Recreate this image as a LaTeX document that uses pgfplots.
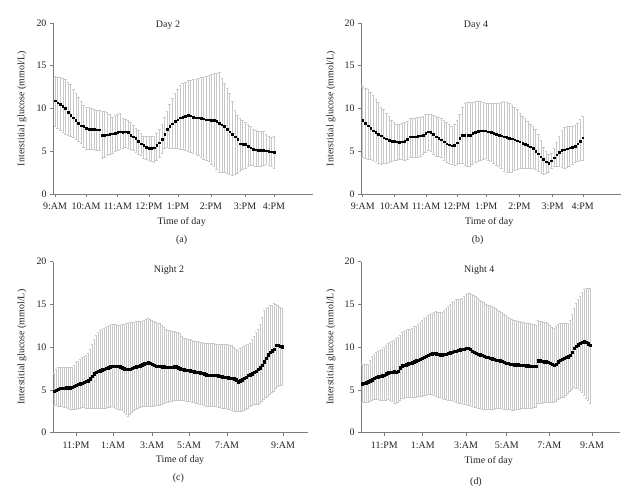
\documentclass[border=0pt]{standalone}
\usepackage{fontspec}
\setmainfont{Liberation Serif}
\usepackage{pgfplots}
\usepackage{pgfplotstable}
\pgfplotsset{compat=1.18}

\definecolor{barc}{RGB}{200,200,200}
\definecolor{axc}{RGB}{125,125,125}
\definecolor{txt}{RGB}{35,35,35}

\pgfplotstableread{
m hi lo
10.9 13.8 7.95
10.7 13.7 7.7
10.5 13.6 7.4
10.3 13.5 7.2
10.0 13.4 7.0
9.6 13.1 6.9
9.2 12.8 6.8
8.9 12.3 6.6
8.6 11.8 6.4
8.3 11.3 6.2
8.0 10.8 5.9
7.9 10.4 5.5
7.7 10.2 5.2
7.6 10.1 5.2
7.55 10.0 5.2
7.55 9.9 5.2
7.5 9.85 5.15
7.5 9.8 5.15
6.9 9.7 4.2
6.9 9.7 4.3
6.95 9.6 4.5
7.0 9.3 4.6
7.05 9.0 4.8
7.1 9.2 5.0
7.2 9.3 5.1
7.3 9.4 5.2
7.2 8.9 5.4
7.3 8.7 5.5
7.2 8.6 5.4
6.9 8.4 5.2
6.7 8.0 5.1
6.5 7.7 4.9
6.2 7.5 4.7
5.9 7.1 4.5
5.7 6.8 4.2
5.5 6.7 4.05
5.35 6.7 3.9
5.35 6.7 3.8
5.4 6.8 3.7
5.7 7.1 3.9
6.0 7.6 4.3
6.4 8.2 4.8
7.0 9.0 5.4
7.6 9.7 5.45
7.9 10.5 5.4
8.2 11.2 5.35
8.5 11.8 5.35
8.7 12.3 5.3
8.9 12.7 5.25
9.0 12.9 5.2
9.1 13.1 5.1
9.2 13.3 5.0
9.15 13.35 4.9
9.0 13.4 4.8
8.9 13.45 4.6
8.9 13.5 4.5
8.85 13.6 4.3
8.8 13.7 4.1
8.7 13.8 3.9
8.7 13.9 3.8
8.6 14.0 3.5
8.6 14.1 3.2
8.5 14.15 2.85
8.3 14.2 2.6
8.1 13.5 2.5
7.9 13.0 2.5
7.6 12.4 2.4
7.3 11.8 2.3
7.0 10.8 2.25
6.7 9.8 2.3
6.4 9.2 2.4
5.9 8.8 2.7
5.8 8.6 2.9
5.8 8.4 3.0
5.6 8.1 3.2
5.4 7.9 3.35
5.25 7.6 3.4
5.2 7.4 3.3
5.15 7.3 3.2
5.15 7.3 3.2
5.1 7.3 3.35
5.05 7.0 3.5
5.0 6.7 3.4
4.95 6.6 3.2
4.9 6.8 3.0
}\dayA

\pgfplotstableread{
m hi lo
8.6 12.6 4.35
8.3 12.4 4.2
8.0 12.2 4.1
7.7 11.9 4.05
7.4 11.5 4.0
7.2 11.1 3.8
7.0 10.7 3.55
6.8 10.2 3.5
6.6 9.9 3.55
6.45 9.5 3.65
6.3 9.1 3.75
6.2 8.6 3.85
6.15 8.35 3.95
6.1 8.2 4.0
6.05 8.2 4.05
6.1 8.25 4.05
6.2 8.4 4.0
6.4 8.5 4.1
6.7 8.8 4.3
6.7 8.9 4.35
6.7 8.9 4.35
6.75 8.95 4.35
6.8 9.0 4.4
6.9 9.1 4.6
7.1 9.3 4.9
7.3 9.35 5.1
7.2 9.3 5.0
7.0 9.2 4.6
6.7 9.1 4.45
6.5 9.0 4.4
6.35 8.85 4.3
6.1 8.6 4.0
5.9 8.4 3.7
5.75 8.1 3.6
5.65 7.95 3.5
5.7 8.15 3.4
6.0 8.6 3.5
6.5 9.3 3.6
6.85 10.1 3.6
6.9 10.6 3.4
6.9 10.7 3.2
6.9 10.7 3.3
7.1 10.7 3.45
7.25 10.8 3.7
7.35 10.9 3.85
7.4 10.85 4.0
7.4 10.7 4.1
7.4 10.6 4.15
7.3 10.6 4.0
7.2 10.6 3.8
7.1 10.6 3.6
7.0 10.6 3.35
6.9 10.65 3.25
6.8 10.75 3.0
6.7 10.8 2.7
6.65 10.75 2.55
6.55 10.6 2.55
6.45 10.4 2.6
6.35 10.2 2.75
6.25 9.9 2.9
6.1 9.5 3.0
5.95 9.1 3.0
5.8 8.8 3.0
5.7 8.5 3.0
5.55 8.2 3.0
5.35 7.9 3.0
5.0 7.6 2.95
4.7 7.0 2.7
4.35 6.3 2.4
4.05 5.5 2.35
3.8 5.0 2.45
3.6 4.6 2.6
3.9 4.8 3.0
4.25 5.3 3.25
4.6 6.0 3.25
4.9 6.8 3.2
5.1 7.5 3.1
5.2 7.8 3.0
5.3 7.9 3.1
5.4 7.9 3.3
5.5 7.9 3.5
5.6 8.0 3.7
5.9 8.3 3.8
6.2 8.7 3.9
6.6 9.05 4.0
}\dayB

\pgfplotstableread{
m hi lo
4.85 6.9 3.25
4.95 7.4 3.2
5.1 7.6 3.15
5.2 7.65 3.1
5.2 7.7 3.05
5.2 7.7 3.0
5.25 7.7 2.95
5.25 7.7 2.85
5.25 7.65 2.8
5.35 7.7 2.75
5.45 7.9 2.75
5.55 8.2 2.8
5.65 8.4 2.85
5.75 8.6 2.9
5.8 8.8 2.95
5.9 8.95 2.95
6.0 9.1 2.9
6.1 9.3 2.9
6.3 9.8 2.85
6.6 10.35 2.85
6.9 10.9 2.85
7.1 11.4 2.85
7.2 11.7 2.85
7.25 12.0 2.85
7.35 12.1 2.85
7.45 12.2 2.85
7.55 12.35 2.9
7.6 12.45 2.95
7.7 12.55 3.0
7.75 12.65 3.05
7.8 12.7 3.0
7.8 12.65 2.9
7.75 12.6 2.8
7.7 12.6 2.7
7.6 12.65 2.6
7.5 12.7 2.4
7.4 12.8 2.15
7.4 12.85 1.95
7.45 12.9 2.1
7.55 12.9 2.4
7.65 12.95 2.65
7.7 13.0 2.8
7.8 13.0 2.9
7.85 13.0 3.0
7.95 13.0 3.05
8.05 13.1 3.05
8.1 13.25 3.05
8.2 13.4 3.05
8.1 13.3 3.05
8.0 13.1 3.1
7.9 13.0 3.15
7.8 12.9 3.2
7.8 12.8 3.2
7.75 12.75 3.25
7.7 12.6 3.35
7.7 12.3 3.45
7.65 12.1 3.55
7.65 12.0 3.6
7.65 11.95 3.65
7.65 11.9 3.7
7.7 11.85 3.75
7.7 11.8 3.75
7.6 11.75 3.8
7.5 11.6 3.8
7.4 11.3 3.75
7.35 11.1 3.75
7.3 11.0 3.7
7.3 10.95 3.7
7.25 10.9 3.65
7.2 10.8 3.6
7.15 10.75 3.55
7.1 10.7 3.5
7.05 10.65 3.4
7.0 10.6 3.35
6.95 10.55 3.3
6.9 10.5 3.2
6.8 10.5 3.15
6.75 10.45 3.1
6.75 10.45 3.1
6.7 10.45 3.05
6.7 10.45 3.05
6.7 10.4 3.05
6.65 10.4 3.0
6.6 10.4 2.95
6.55 10.4 2.9
6.5 10.35 2.9
6.5 10.3 2.85
6.45 10.3 2.8
6.4 10.25 2.7
6.4 10.25 2.6
6.3 10.0 2.55
6.2 9.8 2.5
5.95 9.65 2.45
6.1 9.85 2.5
6.2 10.0 2.55
6.35 10.1 2.65
6.5 10.2 2.7
6.7 10.35 2.9
6.8 10.5 3.05
6.9 10.9 3.2
7.05 11.3 3.3
7.2 11.7 3.35
7.4 12.1 3.35
7.6 12.7 3.5
7.9 13.5 3.7
8.3 14.3 3.9
8.7 14.5 4.1
9.1 14.7 4.3
9.4 14.85 4.5
9.6 14.95 4.7
9.8 15.1 4.9
10.2 15.0 5.2
10.2 14.85 5.4
10.1 14.7 5.5
10.05 14.55 5.6
}\nightA

\pgfplotstableread{
m hi lo
5.75 8.05 3.6
5.8 8.05 3.6
5.85 8.05 3.6
5.95 8.05 3.6
6.1 8.5 3.7
6.2 8.9 3.8
6.4 9.2 3.95
6.5 9.4 3.95
6.55 9.55 3.9
6.6 9.7 3.85
6.65 9.8 3.8
6.75 9.95 3.8
6.9 10.2 3.85
7.0 10.45 3.9
7.05 10.55 3.85
7.1 10.7 3.7
7.15 10.85 3.5
7.05 11.0 3.45
7.2 11.2 3.6
7.6 11.4 3.8
7.85 11.7 4.0
7.9 11.85 4.05
7.95 11.95 4.1
8.05 12.05 4.15
8.1 12.1 4.2
8.2 12.25 4.2
8.3 12.4 4.2
8.4 12.5 4.2
8.5 12.7 4.25
8.6 12.95 4.3
8.7 13.15 4.3
8.8 13.35 4.35
8.95 13.55 4.4
9.05 13.75 4.5
9.15 13.9 4.5
9.25 14.0 4.45
9.3 14.1 4.4
9.25 14.15 4.3
9.15 14.1 4.2
9.1 14.05 4.1
9.1 14.05 4.05
9.15 14.3 3.95
9.2 14.5 3.9
9.3 14.75 3.85
9.35 15.0 3.8
9.4 15.25 3.75
9.5 15.4 3.65
9.55 15.55 3.55
9.65 15.6 3.5
9.7 15.65 3.45
9.75 15.75 3.4
9.8 15.95 3.35
9.85 16.15 3.3
9.85 16.3 3.25
9.75 16.3 3.2
9.55 16.2 3.1
9.4 16.1 3.0
9.3 15.95 2.95
9.2 15.7 2.9
9.1 15.5 2.85
9.05 15.35 2.8
8.95 15.2 2.8
8.85 15.05 2.8
8.8 14.95 2.75
8.7 14.9 2.75
8.65 14.8 2.8
8.6 14.65 2.8
8.5 14.5 2.85
8.45 14.35 2.85
8.4 14.25 2.85
8.35 14.1 2.85
8.25 13.9 2.8
8.15 13.7 2.8
8.1 13.5 2.75
8.0 13.35 2.7
8.0 13.25 2.65
7.95 13.15 2.65
7.95 13.1 2.7
7.95 13.05 2.75
7.9 13.0 2.8
7.9 12.95 2.85
7.9 12.9 2.85
7.85 12.85 2.85
7.85 12.8 2.9
7.8 12.75 2.9
7.8 12.7 2.9
7.8 12.65 2.95
7.8 12.6 2.95
8.4 13.1 3.4
8.4 13.05 3.45
8.35 13.0 3.5
8.3 12.95 3.55
8.3 12.9 3.55
8.25 12.8 3.6
8.15 12.6 3.6
8.0 12.3 3.6
7.9 12.2 3.6
8.0 12.4 3.7
8.3 12.65 3.9
8.45 12.75 4.0
8.6 12.8 4.15
8.7 12.8 4.2
8.8 12.8 4.4
8.9 12.8 4.6
9.05 13.2 4.85
9.4 13.9 5.1
9.85 14.6 5.3
10.1 15.1 5.25
10.3 15.6 5.15
10.45 16.0 5.0
10.55 16.4 4.7
10.65 16.75 4.4
10.6 16.9 4.05
10.4 16.9 3.8
10.2 16.9 3.5
}\nightB

\pgfplotsset{
  gl/.style={
    scale only axis, anchor=south west,
    ymin=0, ymax=20, ytick={0,5,10,15,20},
    axis lines=left, axis line style={-, axc, line width=0.6pt},
    tick align=outside, major tick length=3bp,
    tick style={axc, line width=0.5pt},
    tick label style={font=\fontsize{10}{12}\selectfont, text=txt},
    xticklabel style={yshift=-2.5bp},
    /pgf/number format/assume math mode=true,
    label style={font=\fontsize{10}{12}\selectfont, text=txt},
    xlabel={Time of day}, ylabel={Interstitial glucose (mmol/L)},
    clip=false,
  },
  bars/.style={forget plot, draw=none, no markers,
    error bars/.cd, y dir=both, y explicit,
    error bar style={draw=barc, line width=0.5pt},
    error mark options={draw=barc, rotate=90, mark size=1.3pt, line width=0.5pt}},
  dmark/.style={only marks, mark=square*, mark size=0.8pt, mark options={draw=none, fill=black}},
  nmark/.style={only marks, mark=square*, mark size=1.2pt, mark options={draw=none, fill=black}},
}

\begin{document}
\begin{tikzpicture}[x=1bp, y=1bp, font=\fontsize{10}{12}\selectfont]
\useasboundingbox (0,0) rectangle (636,492);

% (a) Day 2
\begin{axis}[gl, at={(53bp,298bp)}, width=260bp, height=171bp,
  xmin=-0.77, xmax=98.96,
  xtick={0,11.9,24.05,36.06,47.2,59.8,72.9,84},
  xticklabels={9:AM,10:AM,11:AM,12:PM,1:PM,2:PM,3:PM,4:PM},
  ylabel style={at={(axis description cs:-0.119,0.5)}, anchor=center},
  xlabel style={at={(axis description cs:0.495,-0.162)}, anchor=center}]
\addplot[bars] table[x expr=\coordindex, y=m,
  y error plus expr=\thisrow{hi}-\thisrow{m},
  y error minus expr=\thisrow{m}-\thisrow{lo}] {\dayA};
\addplot[dmark] table[x expr=\coordindex, y=m] {\dayA};
\end{axis}

% (b) Day 4
\begin{axis}[gl, at={(361bp,298bp)}, width=260bp, height=171bp,
  xmin=-0.65, xmax=98.6,
  xtick={0,12.07,24.17,35.9,47.1,59.8,72.5,84},
  xticklabels={9:AM,10:AM,11:AM,12:PM,1:PM,2:PM,3:PM,4:PM},
  ylabel style={at={(axis description cs:-0.115,0.5)}, anchor=center},
  xlabel style={at={(axis description cs:0.493,-0.163)}, anchor=center}]
\addplot[bars] table[x expr=\coordindex, y=m,
  y error plus expr=\thisrow{hi}-\thisrow{m},
  y error minus expr=\thisrow{m}-\thisrow{lo}] {\dayB};
\addplot[dmark] table[x expr=\coordindex, y=m] {\dayB};
\end{axis}

% (c) Night 2
\begin{axis}[gl, at={(53bp,59.3bp)}, width=255bp, height=171bp,
  xmin=-0.5, xmax=127,
  xtick={11,29.5,49,67.5,86.5,114.5},
  xticklabels={11:PM,1:AM,3:AM,5:AM,7:AM,9:AM},
  ylabel style={at={(axis description cs:-0.1216,0.5)}, anchor=center},
  xlabel style={at={(axis description cs:0.498,-0.16)}, anchor=center}]
\addplot[bars] table[x expr=\coordindex, y=m,
  y error plus expr=\thisrow{hi}-\thisrow{m},
  y error minus expr=\thisrow{m}-\thisrow{lo}] {\nightA};
\addplot[nmark] table[x expr=\coordindex, y=m] {\nightA};
\end{axis}

% (d) Night 4
\begin{axis}[gl, at={(361bp,59.3bp)}, width=259bp, height=171bp,
  xmin=-0.5, xmax=129,
  xtick={11.15,30.35,52,72.35,93.65,115},
  xticklabels={11:PM,1:AM,3:AM,5:AM,7:AM,9:AM},
  ylabel style={at={(axis description cs:-0.116,0.5)}, anchor=center},
  xlabel style={at={(axis description cs:0.493,-0.163)}, anchor=center}]
\addplot[bars] table[x expr=\coordindex, y=m,
  y error plus expr=\thisrow{hi}-\thisrow{m},
  y error minus expr=\thisrow{m}-\thisrow{lo}] {\nightB};
\addplot[nmark] table[x expr=\coordindex, y=m] {\nightB};
\end{axis}

\node[text=txt] at (168,467) {Day 2};
\node[text=txt] at (476,467) {Day 4};
\node[text=txt] at (169,222) {Night 2};
\node[text=txt] at (479.3,222) {Night 4};
\node[text=txt] at (181.7,252) {(a)};
\node[text=txt] at (477.7,252) {(b)};
\node[text=txt] at (178.3,13.7) {(c)};
\node[text=txt] at (476,10.3) {(d)};
\end{tikzpicture}
\end{document}
